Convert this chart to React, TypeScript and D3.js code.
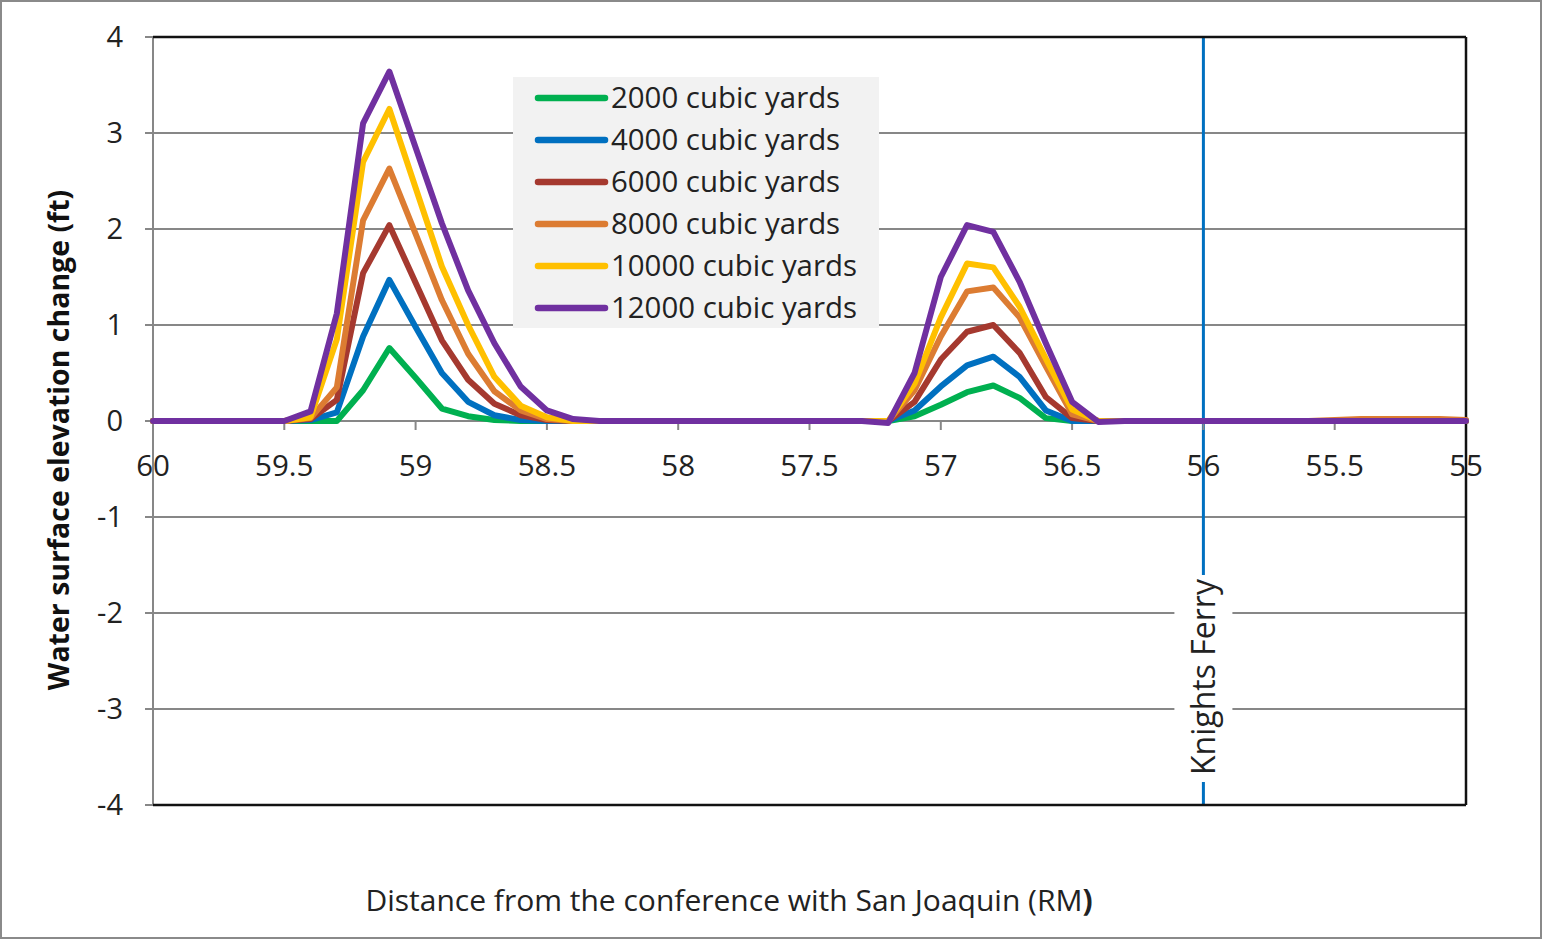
import React from "react";
import * as d3 from "d3";

// River mile stations (upstream to downstream)
const riverMiles = [
  60, 59.9, 59.8, 59.7, 59.6, 59.5, 59.4, 59.3, 59.2, 59.1,
  59, 58.9, 58.8, 58.7, 58.6, 58.5, 58.4, 58.3, 58.2, 58.1,
  58, 57.9, 57.8, 57.7, 57.6, 57.5, 57.4, 57.3, 57.2, 57.1,
  57, 56.9, 56.8, 56.7, 56.6, 56.5, 56.4, 56.3, 56.2, 56.1,
  56, 55.9, 55.8, 55.7, 55.6, 55.5, 55.4, 55.3, 55.2, 55.1,
  55,
];

// Water surface elevation change (ft) for each placement volume
const wse2000 = [
  0, 0, 0, 0, 0, 0, 0, 0, 0.32, 0.76,
  0.45, 0.13, 0.05, 0.01, 0, 0, 0, 0, 0, 0,
  0, 0, 0, 0, 0, 0, 0, 0, 0, 0.05,
  0.17, 0.3, 0.37, 0.24, 0.03, 0, 0, 0, 0, 0,
  0, 0, 0, 0, 0, 0, 0, 0, 0, 0,
  0,
];
const wse4000 = [
  0, 0, 0, 0, 0, 0, 0.01, 0.09, 0.88, 1.47,
  0.98, 0.5, 0.2, 0.06, 0.01, 0, 0, 0, 0, 0,
  0, 0, 0, 0, 0, 0, 0, 0, 0, 0.11,
  0.36, 0.58, 0.67, 0.46, 0.11, 0, 0, 0, 0, 0,
  0, 0, 0, 0, 0, 0, 0, 0, 0, 0,
  0,
];
const wse6000 = [
  0, 0, 0, 0, 0, 0, 0.02, 0.22, 1.54, 2.04,
  1.44, 0.84, 0.43, 0.18, 0.06, 0.01, 0, 0, 0, 0,
  0, 0, 0, 0, 0, 0, 0, 0, 0, 0.2,
  0.64, 0.93, 1.0, 0.71, 0.25, 0.03, 0, 0, 0, 0,
  0, 0, 0, 0, 0, 0, 0, 0, 0, 0,
  0,
];
const wse8000 = [
  0, 0, 0, 0, 0, 0, 0.03, 0.35, 2.09, 2.63,
  1.95, 1.26, 0.7, 0.31, 0.11, 0.02, 0, 0, 0, 0,
  0, 0, 0, 0, 0, 0, 0, 0, 0, 0.32,
  0.88, 1.35, 1.39, 1.08, 0.57, 0.07, 0, 0, 0, 0,
  0, 0, 0, 0, 0, 0.01, 0.02, 0.02, 0.02, 0.02,
  0.01,
];
const wse10000 = [
  0, 0, 0, 0, 0, 0, 0.04, 0.85, 2.7, 3.25,
  2.43, 1.61, 1.0, 0.46, 0.16, 0.04, 0, 0, 0, 0,
  0, 0, 0, 0, 0, 0, 0, 0, 0, 0.39,
  1.08, 1.64, 1.6, 1.19, 0.65, 0.12, 0, 0, 0, 0,
  0, 0, 0, 0, 0, 0, 0, 0, 0, 0,
  0,
];
const wse12000 = [
  0, 0, 0, 0, 0, 0, 0.1, 1.12, 3.1, 3.64,
  2.85, 2.06, 1.36, 0.81, 0.36, 0.11, 0.02, 0, 0, 0,
  0, 0, 0, 0, 0, 0, 0, 0, -0.02, 0.5,
  1.5, 2.04, 1.97, 1.45, 0.81, 0.2, -0.01, 0, 0, 0,
  0, 0, 0, 0, 0, 0, 0, 0, 0, 0,
  0,
];

const seriesNames = [
  "2000 cubic yards",
  "4000 cubic yards",
  "6000 cubic yards",
  "8000 cubic yards",
  "10000 cubic yards",
  "12000 cubic yards",
];
const seriesValues = [wse2000, wse4000, wse6000, wse8000, wse10000, wse12000];
const seriesColors = ["#00B050", "#0070C0", "#A5392F", "#DC7C32", "#FFC000", "#7030A0"];

const xTicks = [60, 59.5, 59, 58.5, 58, 57.5, 57, 56.5, 56, 55.5, 55];
const yTicks = [4, 3, 2, 1, 0, -1, -2, -3, -4];

const knightsFerryRM = 56;
const knightsFerryLabel = "Knights Ferry";
const xTitle = "Distance from the conference with San Joaquin (RM";
const yTitle = "Water surface elevation change (ft)";

const W = 1542;
const H = 939;
const FONT = "'Open Sans', 'DejaVu Sans', sans-serif";

export default function App() {
  const left = 153;
  const right = 1466;
  const top = 37;
  const bottom = 805;

  const x = d3.scaleLinear().domain([60, 55]).range([left, right]);
  const y = d3.scaleLinear().domain([-4, 4]).range([bottom, top]);

  const line = d3
    .line<number>()
    .x((_, i) => x(riverMiles[i]))
    .y((d) => y(d));

  const gridColor = "#878787";
  const legend = { x: 513, y: 77, w: 366, h: 251, rowH: 42 };
  const kfX = x(knightsFerryRM);

  return (
    <svg
      width={W}
      height={H}
      style={{ position: "absolute", left: 0, top: 0, display: "block", background: "#fff" }}
      fontFamily={FONT}
    >
      <rect x={1} y={1} width={W - 2} height={H - 2} fill="#fff" stroke="#8a8a8a" strokeWidth={2} />

      {/* horizontal gridlines with small left tick marks */}
      {yTicks.map((t) => (
        <g key={`g${t}`}>
          {t !== 4 && t !== -4 && t !== 0 && (
            <line x1={left} x2={right} y1={y(t)} y2={y(t)} stroke={gridColor} strokeWidth={2} />
          )}
          <line x1={left - 8} x2={left} y1={y(t)} y2={y(t)} stroke={gridColor} strokeWidth={2} />
          <text
            x={left - 30}
            y={y(t)}
            dy="0.35em"
            textAnchor="end"
            fontSize={29}
            fill="#222"
          >
            {t}
          </text>
        </g>
      ))}

      {/* Knights Ferry marker */}
      <line x1={kfX} x2={kfX} y1={top} y2={bottom} stroke="#0070C0" strokeWidth={3} />
      <rect x={kfX - 29} y={575} width={58} height={207} fill="#fff" />
      <text
        transform={`translate(${kfX + 12},${677}) rotate(-90)`}
        textAnchor="middle"
        fontSize={32}
        fill="#222"
      >
        {knightsFerryLabel}
      </text>

      {/* zero axis with ticks */}
      <line x1={left} x2={right} y1={y(0)} y2={y(0)} stroke={gridColor} strokeWidth={2} />
      {xTicks.map((t) => (
        <g key={`x${t}`}>
          <line x1={x(t)} x2={x(t)} y1={y(0)} y2={y(0) + 9} stroke={gridColor} strokeWidth={2} />
          <text x={x(t)} y={y(0) + 55} textAnchor="middle" fontSize={29.5} fill="#222">
            {t}
          </text>
        </g>
      ))}

      {/* plot frame */}
      <line x1={left} x2={left} y1={top} y2={bottom} stroke={gridColor} strokeWidth={2} />
      <line x1={left} x2={right} y1={top} y2={top} stroke="#111" strokeWidth={2.5} />
      <line x1={right} x2={right} y1={top} y2={bottom} stroke="#111" strokeWidth={2.5} />
      <line x1={left} x2={right} y1={bottom} y2={bottom} stroke="#111" strokeWidth={2.5} />

      {/* legend */}
      <rect x={legend.x} y={legend.y} width={legend.w} height={legend.h} fill="#F2F2F2" />
      {seriesNames.map((name, i) => {
        const ly = legend.y + 21 + i * legend.rowH;
        return (
          <g key={name}>
            <line
              x1={538}
              x2={605}
              y1={ly}
              y2={ly}
              stroke={seriesColors[i]}
              strokeWidth={6.5}
              strokeLinecap="round"
            />
            <text x={611} y={ly} dy="0.35em" fontSize={29.4} fill="#222">
              {name}
            </text>
          </g>
        );
      })}

      {/* series lines */}
      {seriesValues.map((vals, i) => (
        <path
          key={seriesNames[i]}
          d={line(vals) ?? ""}
          fill="none"
          stroke={seriesColors[i]}
          strokeWidth={6}
          strokeLinejoin="round"
          strokeLinecap="round"
        />
      ))}

      {/* axis titles */}
      <text
        transform={`translate(69,${440}) rotate(-90)`}
        textAnchor="middle"
        fontSize={28.5}
        fontWeight="bold"
        fill="#111"
      >
        {yTitle}
      </text>
      <text x={729} y={911} textAnchor="middle" fontSize={30} fill="#222">
        {xTitle}
        <tspan fontWeight="bold">)</tspan>
      </text>
    </svg>
  );
}
